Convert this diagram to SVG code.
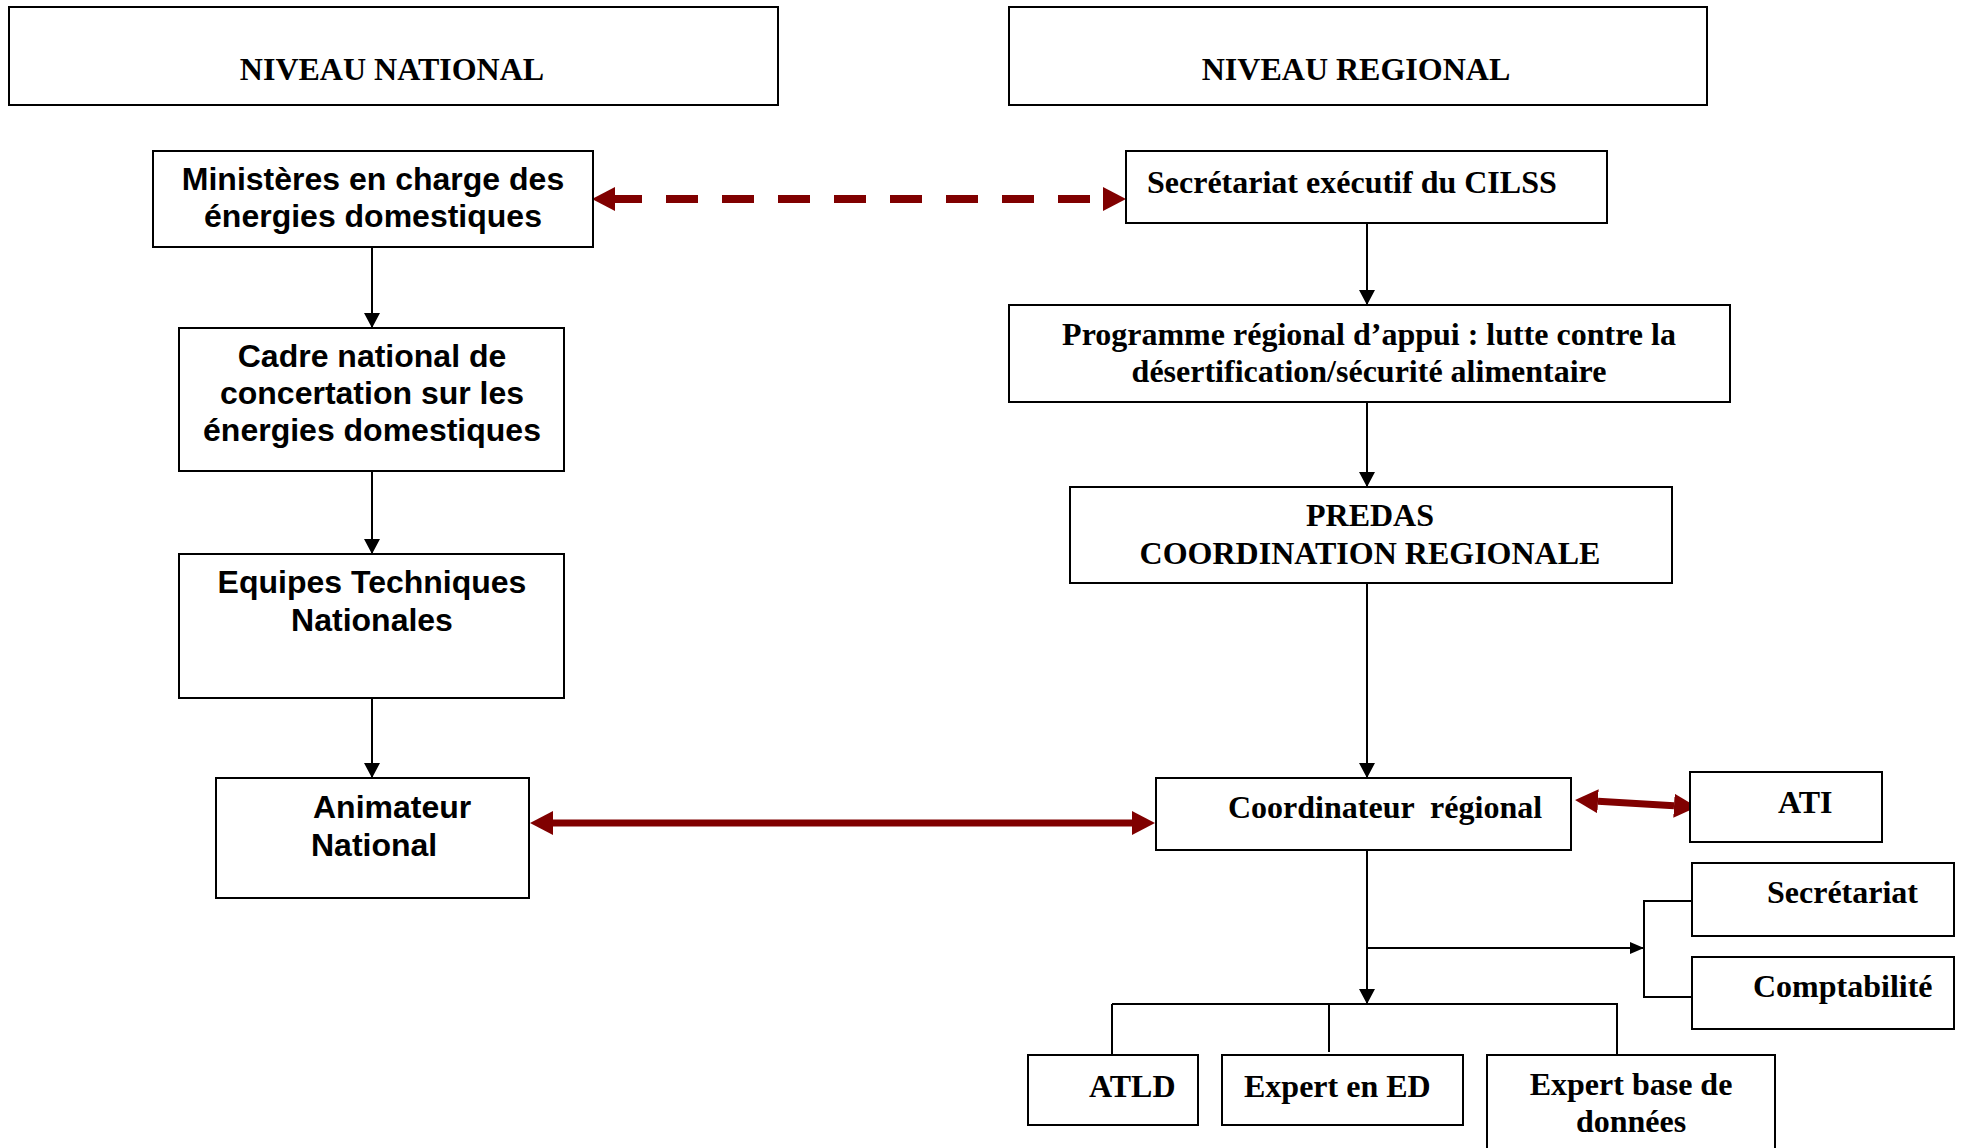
<svg xmlns="http://www.w3.org/2000/svg" width="1961" height="1148" viewBox="0 0 1961 1148">
<style>
.box{fill:#fff;stroke:#000;stroke-width:2}
.tr{font-family:"Liberation Serif","Times New Roman",serif;font-weight:bold;font-size:32px;fill:#000;white-space:pre}
.ar{font-family:"Liberation Sans",Arial,sans-serif;font-weight:bold;font-size:32px;fill:#000}
.c{text-anchor:middle}
.ln{fill:none;stroke:#000;stroke-width:2}
.red{fill:none;stroke:#800000;stroke-width:7}
.dash{fill:none;stroke:#800000;stroke-width:8;stroke-dasharray:32 24;stroke-dashoffset:5}
</style>
<defs>
<marker id="ah" markerUnits="userSpaceOnUse" markerWidth="15" markerHeight="16" viewBox="0 0 15 16" refX="15" refY="8" orient="auto"><path d="M0,0 L15,8 L0,16 z" fill="#000"/></marker>
<marker id="ahs" markerUnits="userSpaceOnUse" markerWidth="14" markerHeight="12" viewBox="0 0 14 12" refX="14" refY="6" orient="auto"><path d="M0,0 L14,6 L0,12 z" fill="#000"/></marker>
<marker id="ahr" markerUnits="userSpaceOnUse" markerWidth="23" markerHeight="24" viewBox="0 0 23 24" refX="0" refY="12" orient="auto-start-reverse"><path d="M0,0 L23,12 L0,24 z" fill="#800000"/></marker>
</defs>
<rect width="1961" height="1148" fill="#fff"/>
<g id="connectors">
<line class="ln" x1="372" y1="247" x2="372" y2="328" marker-end="url(#ah)"/>
<line class="ln" x1="372" y1="471" x2="372" y2="554" marker-end="url(#ah)"/>
<line class="ln" x1="372" y1="691" x2="372" y2="778" marker-end="url(#ah)"/>
<line class="ln" x1="1367" y1="221" x2="1367" y2="305" marker-end="url(#ah)"/>
<line class="ln" x1="1367" y1="402" x2="1367" y2="487" marker-end="url(#ah)"/>
<line class="ln" x1="1367" y1="580" x2="1367" y2="778" marker-end="url(#ah)"/>
<line class="ln" x1="1367" y1="846" x2="1367" y2="1004" marker-end="url(#ah)"/>
<line class="ln" x1="1367" y1="948" x2="1644" y2="948" marker-end="url(#ahs)"/>
<path class="ln" d="M1692,901 H1644 V997 H1692"/>
<path class="ln" d="M1112,1004 H1618"/>
<path class="ln" d="M1112,1004 V1055 M1329,1004 V1052 M1617,1004 V1055"/>
<line class="dash" x1="615" y1="199" x2="1103" y2="199" marker-start="url(#ahr)" marker-end="url(#ahr)"/>
<line class="red" x1="553" y1="823" x2="1132" y2="823" marker-start="url(#ahr)" marker-end="url(#ahr)"/>
<line class="red" x1="1598" y1="801.3" x2="1674" y2="805.7" marker-start="url(#ahr)" marker-end="url(#ahr)"/>
</g>
<g id="niveau-national"><rect class="box" x="9" y="7" width="769" height="98"/><text class="tr c" x="392" y="80">NIVEAU NATIONAL</text></g>
<g id="niveau-regional"><rect class="box" x="1009" y="7" width="698" height="98"/><text class="tr c" x="1356" y="80">NIVEAU REGIONAL</text></g>
<g id="ministeres"><rect class="box" x="153" y="151" width="440" height="96"/><text class="ar c" x="373" y="190">Ministères en charge des</text><text class="ar c" x="373" y="227">énergies domestiques</text></g>
<g id="secretariat-executif"><rect class="box" x="1126" y="151" width="481" height="72"/><text class="tr" x="1147" y="193">Secrétariat exécutif du CILSS</text></g>
<g id="cadre-national"><rect class="box" x="179" y="328" width="385" height="143"/><text class="ar c" x="372" y="367">Cadre national de</text><text class="ar c" x="372" y="404">concertation sur les</text><text class="ar c" x="372" y="441">énergies domestiques</text></g>
<g id="programme-regional"><rect class="box" x="1009" y="305" width="721" height="97"/><text class="tr c" x="1369" y="345">Programme régional d’appui : lutte contre la</text><text class="tr c" x="1369" y="382">désertification/sécurité alimentaire</text></g>
<g id="equipes-techniques"><rect class="box" x="179" y="554" width="385" height="144"/><text class="ar c" x="372" y="593">Equipes Techniques</text><text class="ar c" x="372" y="631">Nationales</text></g>
<g id="predas"><rect class="box" x="1070" y="487" width="602" height="96"/><text class="tr c" x="1370" y="526">PREDAS</text><text class="tr c" x="1370" y="564">COORDINATION REGIONALE</text></g>
<g id="animateur-national"><rect class="box" x="216" y="778" width="313" height="120"/><text class="ar" x="313" y="818">Animateur</text><text class="ar" x="311" y="856">National</text></g>
<g id="coordinateur-regional"><rect class="box" x="1156" y="778" width="415" height="72"/><text class="tr" x="1228" y="818">Coordinateur  régional</text></g>
<g id="ati"><rect class="box" x="1690" y="772" width="192" height="70"/><text class="tr" x="1778" y="813">ATI</text></g>
<g id="secretariat"><rect class="box" x="1692" y="863" width="262" height="73"/><text class="tr" x="1767" y="903">Secrétariat</text></g>
<g id="comptabilite"><rect class="box" x="1692" y="957" width="262" height="72"/><text class="tr" x="1753" y="997">Comptabilité</text></g>
<g id="atld"><rect class="box" x="1028" y="1055" width="170" height="70"/><text class="tr" x="1089" y="1097">ATLD</text></g>
<g id="expert-ed"><rect class="box" x="1222" y="1055" width="241" height="70"/><text class="tr" x="1244" y="1097">Expert en ED</text></g>
<g id="expert-bd"><rect class="box" x="1487" y="1055" width="288" height="100"/><text class="tr c" x="1631" y="1095">Expert base de</text><text class="tr c" x="1631" y="1132">données</text></g>
</svg>
